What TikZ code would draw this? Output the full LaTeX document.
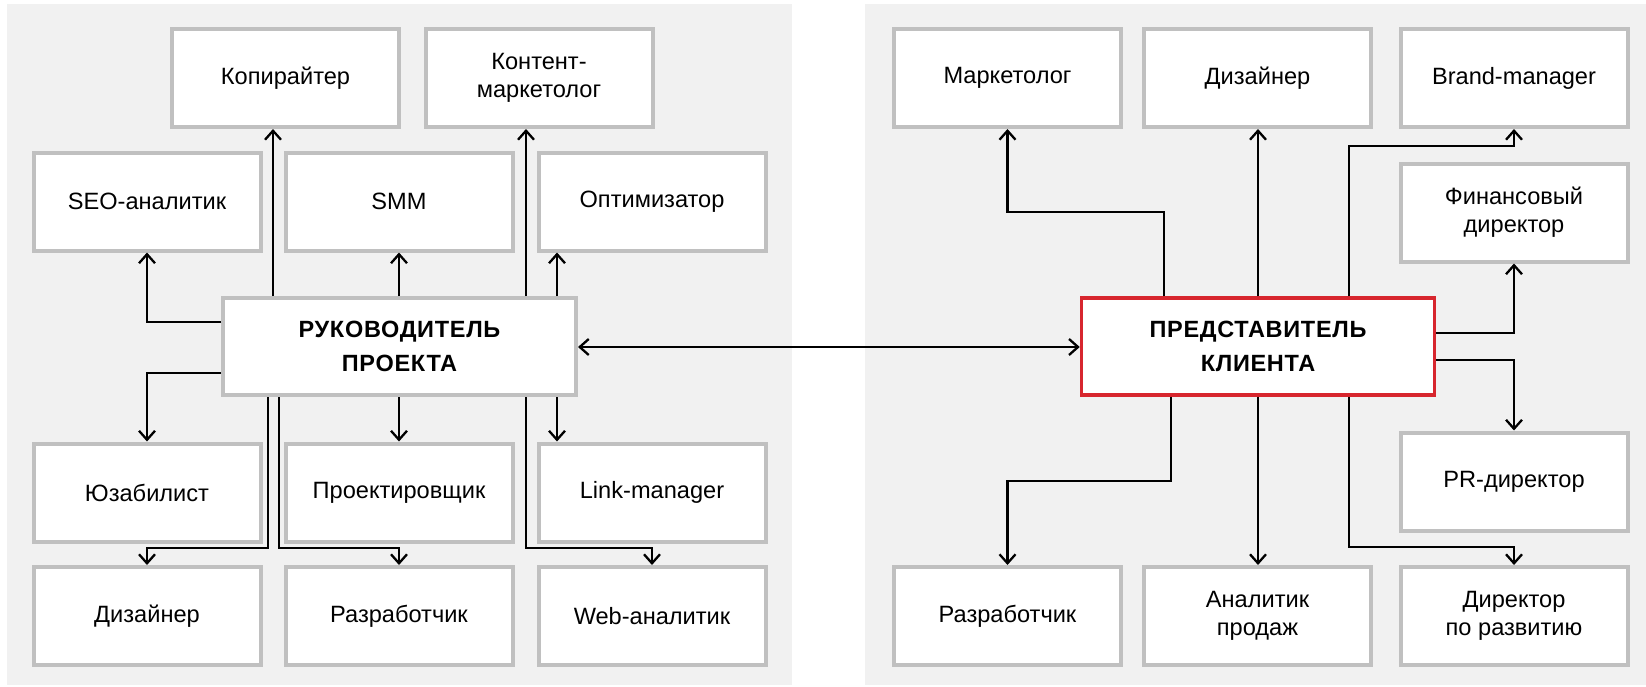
\documentclass[tikz,border=0pt]{standalone}
\usepackage{fontspec}
\setmainfont{Liberation Sans}
\usetikzlibrary{arrows.meta}
\definecolor{panelgray}{HTML}{F1F1F1}
\definecolor{boxgray}{HTML}{C0C0C0}
\definecolor{repred}{HTML}{D7262E}
\tikzset{
  box/.style={draw=boxgray, line width=4pt, fill=white, minimum width=227pt, minimum height=98pt,
    inner sep=0pt, align=center, font=\fontsize{23.6}{28}\selectfont},
  mainbox/.style={box, minimum width=353pt, minimum height=97pt,
    font=\fontsize{23.5}{34}\selectfont\bfseries\addfontfeatures{LetterSpace=3}},
  repbox/.style={mainbox, draw=repred, line width=3.5pt},
  conn/.style={line width=2.3pt, -{Straight Barb[length=9pt,width=16pt]}},
  dconn/.style={line width=2.3pt, {Straight Barb[length=9pt,width=16pt]}-{Straight Barb[length=9pt,width=16pt]}},
  panel/.style={fill=panelgray}
}
\begin{document}
\begin{tikzpicture}[x=1pt,y=-1pt]
\useasboundingbox (0,0) rectangle (1646,686);
\fill[panel] (7,4) rectangle (792,685);
\fill[panel] (865,4) rectangle (1646,685);
% left group
\node[box] (kop) at (285.5,78) {Копирайтер};
\node[box] (kont) at (539,78) {Контент-\\маркетолог};
\node[box] (seo) at (147,201.5) {SEO-аналитик};
\node[box] (smm) at (399,201.5) {SMM};
\node[box] (opt) at (652,201.5) {Оптимизатор};
\node[mainbox] (mgr) at (399.5,346.5) {РУКОВОДИТЕЛЬ\\ПРОЕКТА};
\node[box] (uza) at (147,492.5) {Юзабилист};
\node[box] (proj) at (399,492.5) {Проектировщик};
\node[box] (link) at (652,492.5) {Link-manager};
\node[box] (dizL) at (147,616) {Дизайнер};
\node[box] (razL) at (399,616) {Разработчик};
\node[box] (web) at (652,616) {Web-аналитик};
% right group
\node[box] (mark) at (1007.5,78) {Маркетолог};
\node[box] (dizR) at (1257.5,78) {Дизайнер};
\node[box] (brand) at (1514,78) {Brand-manager};
\node[box] (fin) at (1514,212.5) {Финансовый\\директор};
\node[repbox] (rep) at (1258,346.5) {ПРЕДСТАВИТЕЛЬ\\КЛИЕНТА};
\node[box] (pr) at (1514,481.5) {PR-директор};
\node[box] (razR) at (1007.5,616) {Разработчик};
\node[box] (anal) at (1257.5,616) {Аналитик\\продаж};
\node[box] (dir) at (1514,616) {Директор\\по развитию};
% left connectors
\draw[conn] (273,0 |- mgr.north) -- (273,0 |- kop.south);
\draw[conn] (526,0 |- mgr.north) -- (526,0 |- kont.south);
\draw[conn] (399,0 |- mgr.north) -- (399,0 |- smm.south);
\draw[conn] (557,0 |- mgr.north) -- (557,0 |- opt.south);
\draw[conn] (mgr.west |- 0,322) -| (seo.south);
\draw[conn] (mgr.west |- 0,373) -| (uza.north);
\draw[conn] (268,0 |- mgr.south) -- (268,548) -| (dizL.north);
\draw[conn] (279,0 |- mgr.south) -- (279,548) -| (razL.north);
\draw[conn] (399,0 |- mgr.south) -- (399,0 |- proj.north);
\draw[conn] (526,0 |- mgr.south) -- (526,548) -| (web.north);
\draw[conn] (557,0 |- mgr.south) -- (557,0 |- link.north);
% between
\draw[dconn] (mgr.east |- 0,347) -- (rep.west |- 0,347);
% right connectors
\draw[conn] (1164,0 |- rep.north) -- (1164,212) -| (mark.south);
\draw[conn] (1258,0 |- rep.north) -- (1258,0 |- dizR.south);
\draw[conn] (1349,0 |- rep.north) -- (1349,146) -| (brand.south);
\draw[conn] (rep.east |- 0,333) -| (fin.south);
\draw[conn] (rep.east |- 0,360) -| (pr.north);
\draw[conn] (1171,0 |- rep.south) -- (1171,481) -| (razR.north);
\draw[conn] (1258,0 |- rep.south) -- (1258,0 |- anal.north);
\draw[conn] (1349,0 |- rep.south) -- (1349,547) -| (dir.north);
\end{tikzpicture}
\end{document}
